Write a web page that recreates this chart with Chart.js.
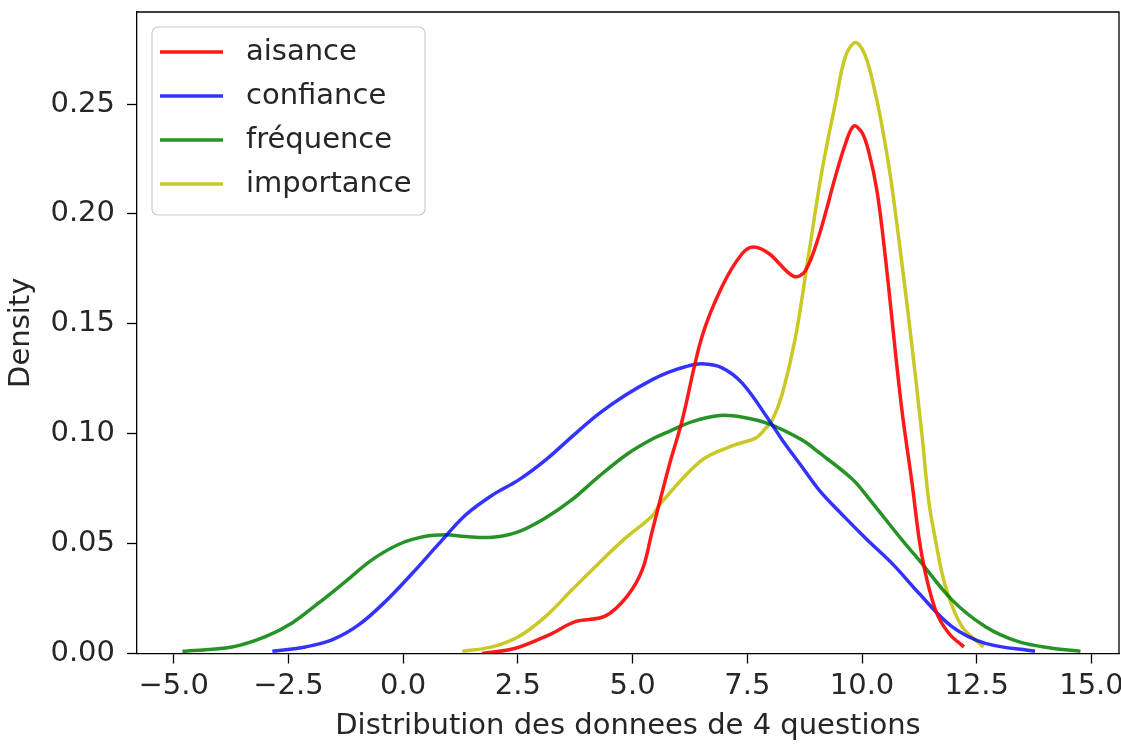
<!DOCTYPE html>
<html>
<head>
<meta charset="utf-8">
<script src="https://cdn.jsdelivr.net/npm/chart.js@4.4.1/dist/chart.umd.min.js"></script>
<style>
  body { margin: 0; background: #fff; }
  canvas { display: block; }
</style>
</head>
<body>
<canvas id="kdeChart" width="1121" height="745"></canvas>
<script>
// KDE curves (x = value, y = density)
const aisanceX = [1.72, 2.45, 3.17, 3.75, 4.4, 4.88, 5.21, 5.42, 5.79, 6.08, 6.51, 6.95, 7.39, 7.64, 7.97, 8.51, 8.76, 9.06, 9.42, 9.64, 9.82, 10.0, 10.15, 10.33, 10.51, 10.85, 11.09, 11.3, 11.6, 11.89, 12.22];
const aisanceY = [0.0, 0.0024, 0.0084, 0.0145, 0.017, 0.026, 0.038, 0.055, 0.085, 0.106, 0.144, 0.167, 0.182, 0.185, 0.182, 0.1716, 0.174, 0.19, 0.217, 0.232, 0.24, 0.237, 0.228, 0.21, 0.18, 0.114, 0.0775, 0.045, 0.0198, 0.0092, 0.003];

const confianceX = [-2.85, -2.13, -1.55, -0.97, -0.39, 0.2, 0.78, 1.36, 1.94, 2.52, 3.1, 3.68, 4.26, 4.84, 5.42, 5.79, 6.15, 6.51, 6.95, 7.39, 7.97, 8.3, 8.69, 9.06, 9.6, 10.1, 10.7, 11.24, 11.96, 12.69, 13.77];
const confianceY = [0.001, 0.003, 0.0062, 0.013, 0.0236, 0.0365, 0.05, 0.063, 0.072, 0.079, 0.088, 0.0987, 0.109, 0.1175, 0.1245, 0.128, 0.1305, 0.1318, 0.13, 0.123, 0.1063, 0.096, 0.085, 0.0745, 0.0625, 0.052, 0.04, 0.0274, 0.0122, 0.0046, 0.001];

const frequenceX = [-4.81, -3.73, -3.0, -2.42, -1.84, -1.26, -0.68, -0.09, 0.46, 0.92, 1.36, 1.94, 2.52, 3.1, 3.68, 4.26, 4.9, 5.42, 5.79, 6.3, 6.9, 7.4, 7.97, 8.69, 9.06, 9.78, 10.15, 10.87, 11.24, 11.96, 12.69, 13.41, 14.14, 14.76];
const frequenceY = [0.001, 0.003, 0.0077, 0.0139, 0.023, 0.0327, 0.0426, 0.0497, 0.0532, 0.054, 0.0532, 0.0529, 0.0555, 0.0617, 0.07, 0.0805, 0.091, 0.0975, 0.101, 0.1055, 0.1083, 0.1075, 0.1045, 0.0972, 0.0915, 0.0795, 0.0705, 0.0517, 0.0426, 0.0244, 0.0122, 0.0054, 0.0024, 0.001];

const importanceX = [1.29, 1.94, 2.52, 3.1, 3.68, 4.26, 4.8, 5.42, 5.6, 6.51, 7.24, 7.68, 7.9, 8.04, 8.26, 8.55, 8.84, 9.13, 9.42, 9.64, 9.86, 10.07, 10.29, 10.47, 10.65, 11.02, 11.31, 11.45, 11.6, 11.82, 12.18, 12.65];
const importanceY = [0.001, 0.003, 0.0077, 0.0168, 0.029, 0.041, 0.0517, 0.0625, 0.068, 0.088, 0.095, 0.098, 0.1025, 0.106, 0.118, 0.144, 0.182, 0.22, 0.2505, 0.2718, 0.278, 0.272, 0.255, 0.236, 0.2126, 0.152, 0.0987, 0.07, 0.0517, 0.0304, 0.0122, 0.003];

const xTicks = [-5.0, -2.5, 0.0, 2.5, 5.0, 7.5, 10.0, 12.5, 15.0];
const yTicks = [0.0, 0.05, 0.10, 0.15, 0.20, 0.25];

const FONT = "'DejaVu Sans', sans-serif";
const FSIZE = 29;
const TEXT = '#262626';

function toPoints(xs, ys) {
  return xs.map((x, i) => ({x: x, y: ys[i]}));
}

// top + right spines
const boxPlugin = {
  id: 'box',
  afterDraw(chart) {
    const a = chart.chartArea, ctx = chart.ctx;
    ctx.save();
    ctx.strokeStyle = '#000';
    ctx.lineWidth = 1.3;
    ctx.beginPath();
    ctx.moveTo(a.left, a.top);
    ctx.lineTo(a.right, a.top);
    ctx.lineTo(a.right, a.bottom);
    ctx.stroke();
    ctx.restore();
  }
};

// matplotlib style legend, upper left inside the axes
const legendPlugin = {
  id: 'mplLegend',
  afterDatasetsDraw(chart) {
    const a = chart.chartArea, ctx = chart.ctx;
    const x0 = a.left + 15, y0 = a.top + 15, w = 273, h = 188, r = 6;
    ctx.save();
    ctx.fillStyle = 'rgba(255,255,255,0.8)';
    ctx.strokeStyle = '#cccccc';
    ctx.lineWidth = 1.2;
    ctx.beginPath();
    ctx.roundRect(x0, y0, w, h, r);
    ctx.fill();
    ctx.stroke();
    ctx.font = FSIZE + 'px ' + FONT;
    ctx.textBaseline = 'middle';
    chart.data.datasets.forEach((ds, i) => {
      const yy = y0 + 25 + i * 44;
      ctx.strokeStyle = ds.borderColor;
      ctx.lineWidth = ds.borderWidth;
      ctx.beginPath();
      ctx.moveTo(x0 + 8, yy);
      ctx.lineTo(x0 + 71, yy);
      ctx.stroke();
      ctx.fillStyle = TEXT;
      ctx.fillText(ds.label, x0 + 94, yy);
    });
    ctx.restore();
  }
};

new Chart(document.getElementById('kdeChart'), {
  type: 'line',
  data: {
    datasets: [
      {label: 'aisance', data: toPoints(aisanceX, aisanceY), borderColor: 'rgba(255, 0, 0, 0.9)'},
      {label: 'confiance', data: toPoints(confianceX, confianceY), borderColor: 'rgba(0, 0, 255, 0.8)'},
      {label: 'fréquence', data: toPoints(frequenceX, frequenceY), borderColor: 'rgba(0, 128, 0, 0.85)'},
      {label: 'importance', data: toPoints(importanceX, importanceY), borderColor: 'rgba(191, 191, 0, 0.85)'},
    ].map(ds => Object.assign(ds, {
      borderWidth: 3.5,
      pointRadius: 0,
      fill: false,
      tension: 0.35,
    })),
  },
  options: {
    responsive: false,
    animation: false,
    layout: {
      padding: {top: 12, right: 2, left: 0, bottom: 0},
    },
    plugins: {
      legend: {display: false},
      tooltip: {enabled: false},
    },
    scales: {
      x: {
        type: 'linear',
        min: -5.8,
        max: 15.6,
        afterFit: s => { s.height = 91.5; s.paddingLeft = 0; s.paddingRight = 0; },
        afterBuildTicks: s => { s.ticks = xTicks.map(v => ({value: v})); },
        ticks: {
          callback: v => (v < 0 ? '\u2212' : '') + Math.abs(v).toFixed(1),
          font: {family: FONT, size: FSIZE},
          color: TEXT,
          padding: 6,
          maxRotation: 0,
          autoSkip: false,
        },
        grid: {drawOnChartArea: false, tickLength: 10, color: '#000', tickWidth: 1.3},
        border: {display: true, color: '#000', width: 1.3},
        title: {
          display: true,
          text: 'Distribution des donnees de 4 questions',
          font: {family: FONT, size: FSIZE},
          color: TEXT,
          padding: {top: 0, bottom: 1},
        },
      },
      y: {
        min: 0,
        max: 0.2919,
        afterFit: s => { s.width = 137; s.paddingTop = 0; s.paddingBottom = 0; },
        afterBuildTicks: s => { s.ticks = yTicks.map(v => ({value: v})); },
        ticks: {
          callback: v => v.toFixed(2),
          font: {family: FONT, size: FSIZE},
          color: TEXT,
          padding: 12,
          autoSkip: false,
        },
        grid: {drawOnChartArea: false, tickLength: 10, color: '#000', tickWidth: 1.3},
        border: {display: true, color: '#000', width: 1.3},
        title: {
          display: true,
          text: 'Density',
          font: {family: FONT, size: FSIZE},
          color: TEXT,
          padding: {top: 4, bottom: 0},
        },
      },
    },
  },
  plugins: [boxPlugin, legendPlugin],
});
</script>
</body>
</html>
